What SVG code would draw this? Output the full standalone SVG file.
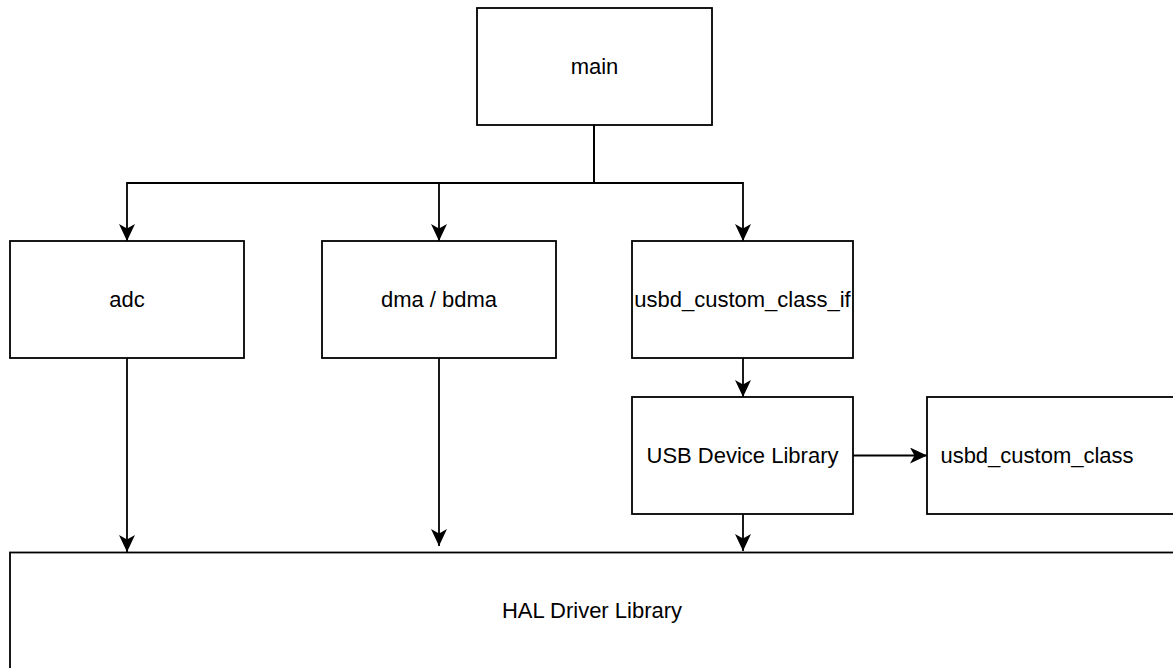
<svg xmlns="http://www.w3.org/2000/svg" width="1173" height="668" viewBox="0 0 1173 668">
<style>
.box{fill:#fff;stroke:#000;stroke-width:1.8}
.lbl{font-family:"Liberation Sans",Arial,Helvetica,sans-serif;font-size:22px;fill:#000;text-anchor:middle}
.edge{fill:none;stroke:#000;stroke-width:1.8}
</style>
<defs>
<marker id="arr" markerUnits="userSpaceOnUse" markerWidth="20" markerHeight="18" refX="17" refY="8" orient="auto">
<path d="M0,0 L17,8 L0,16 L4.5,8 Z" fill="#000"/>
</marker>
</defs>
<rect width="1173" height="668" fill="#fff"/>
<g id="main"><rect class="box" x="477" y="8" width="235" height="117"/><text class="lbl" x="594.5" y="74">main</text></g>
<g id="adc"><rect class="box" x="10" y="241" width="234" height="117"/><text class="lbl" x="127" y="307">adc</text></g>
<g id="dma"><rect class="box" x="322" y="241" width="234" height="117"/><text class="lbl" x="439" y="307">dma / bdma</text></g>
<g id="usbd_if"><rect class="box" x="632" y="241" width="221" height="117"/><text class="lbl" x="742.5" y="307">usbd_custom_class_if</text></g>
<g id="usb_lib"><rect class="box" x="632" y="397" width="221" height="117"/><text class="lbl" x="742.5" y="463">USB Device Library</text></g>
<g id="usbd_class"><rect class="box" x="927" y="397" width="270" height="117"/><text class="lbl" x="1037" y="463">usbd_custom_class</text></g>
<g id="hal"><rect class="box" x="10" y="552.5" width="1180" height="130"/><text class="lbl" x="592" y="618">HAL Driver Library</text></g>
<g id="connectors">
<path class="edge" d="M594,125 V183 H127 V241" marker-end="url(#arr)"/>
<path class="edge" d="M594,125 V183 H439 V241" marker-end="url(#arr)"/>
<path class="edge" d="M594,125 V183 H743 V241" marker-end="url(#arr)"/>
<path class="edge" d="M127,358 V552" marker-end="url(#arr)"/>
<path class="edge" d="M439,358 V546" marker-end="url(#arr)"/>
<path class="edge" d="M743,358 V397" marker-end="url(#arr)"/>
<path class="edge" d="M743,514 V551" marker-end="url(#arr)"/>
<path class="edge" d="M853,455.5 H927" marker-end="url(#arr)"/>
</g>
</svg>
